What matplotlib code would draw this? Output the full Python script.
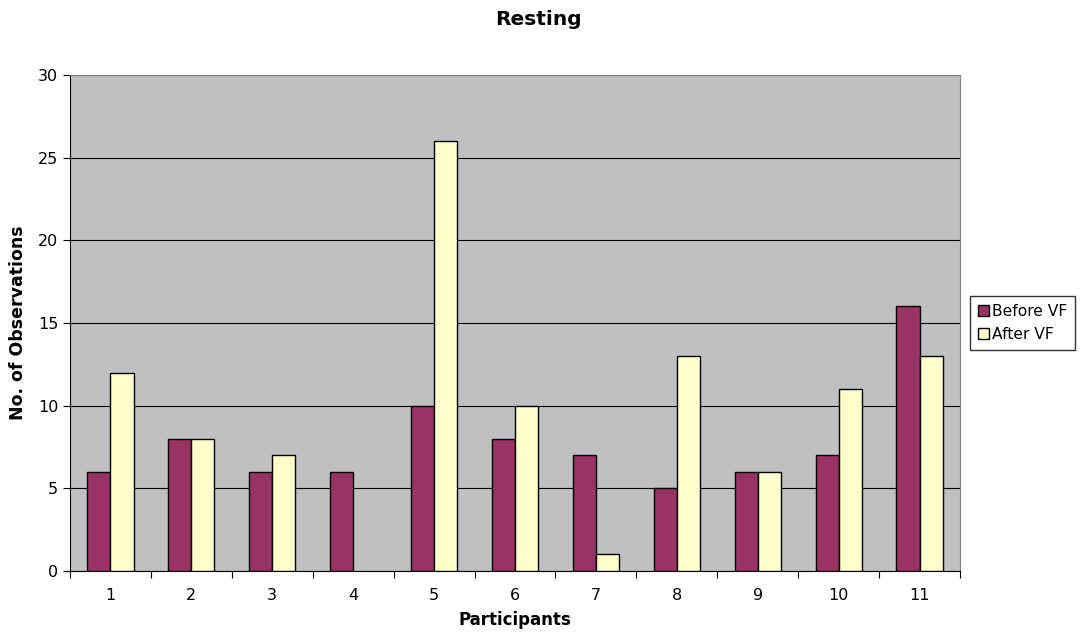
import matplotlib
matplotlib.use("Agg")
import matplotlib.pyplot as plt
import numpy as np

participants = ["1", "2", "3", "4", "5", "6", "7", "8", "9", "10", "11"]
before_vf = [6, 8, 6, 6, 10, 8, 7, 5, 6, 7, 16]
after_vf = [12, 8, 7, 0, 26, 10, 1, 13, 6, 11, 13]

plt.rcParams['font.family'] = ['DejaVu Sans']

fig = plt.figure(figsize=(10.83, 6.39), dpi=100)
ax = fig.add_axes([70/1083, 1-571/639, 890/1083, 496/639])
ax.set_facecolor('#C0C0C0')

x = np.arange(len(participants))
w = 1/3.5
b1 = ax.bar(x - w/2, before_vf, width=w, color='#993366', edgecolor='black', linewidth=1.0, label='Before VF', zorder=3)
b2 = ax.bar(x + w/2, after_vf, width=w, color='#FFFFCC', edgecolor='black', linewidth=1.0, label='After VF', zorder=3)
for bars, vals in ((b1, before_vf), (b2, after_vf)):
    for r, v in zip(bars, vals):
        if v == 0:
            r.set_linewidth(0)

ax.set_xlim(-0.5, len(participants) - 0.5)
ax.set_ylim(0, 30)
ax.set_yticks(range(0, 31, 5))
ax.yaxis.grid(True, color='black', linewidth=0.8, zorder=1)
ax.set_axisbelow(True)

ax.set_xticks(np.arange(-0.5, len(participants), 1.0))
ax.set_xticklabels([])
ax.set_xticks(x, minor=True)
ax.set_xticklabels(participants, minor=True)
ax.tick_params(axis='x', which='major', direction='out', length=5, color='black')
ax.tick_params(axis='x', which='minor', length=0, pad=12, labelsize=11.5)
ax.tick_params(axis='y', direction='out', length=5, labelsize=11.5, color='black')

for s in ['top', 'right']:
    ax.spines[s].set_color('#808080')
for s in ['left', 'bottom']:
    ax.spines[s].set_color('black')

ax.set_xlabel('Participants', fontsize=12, fontweight='bold', labelpad=6)
ax.set_ylabel('No. of Observations', fontsize=12.5, fontweight='bold', labelpad=8)
fig.suptitle('Resting', fontsize=14.5, fontweight='bold', y=0.985, x=0.497)

leg = fig.legend(loc='center left', bbox_to_anchor=(970/1083, 1-323/639), frameon=True,
                 fancybox=False, edgecolor='black', fontsize=11.2, handlelength=0.7,
                 handleheight=0.7, handletextpad=0.2, borderpad=0.5, labelspacing=0.5,
                 borderaxespad=0.0)
leg.get_frame().set_linewidth(1.0)

fig.savefig('out.png', dpi=100)
